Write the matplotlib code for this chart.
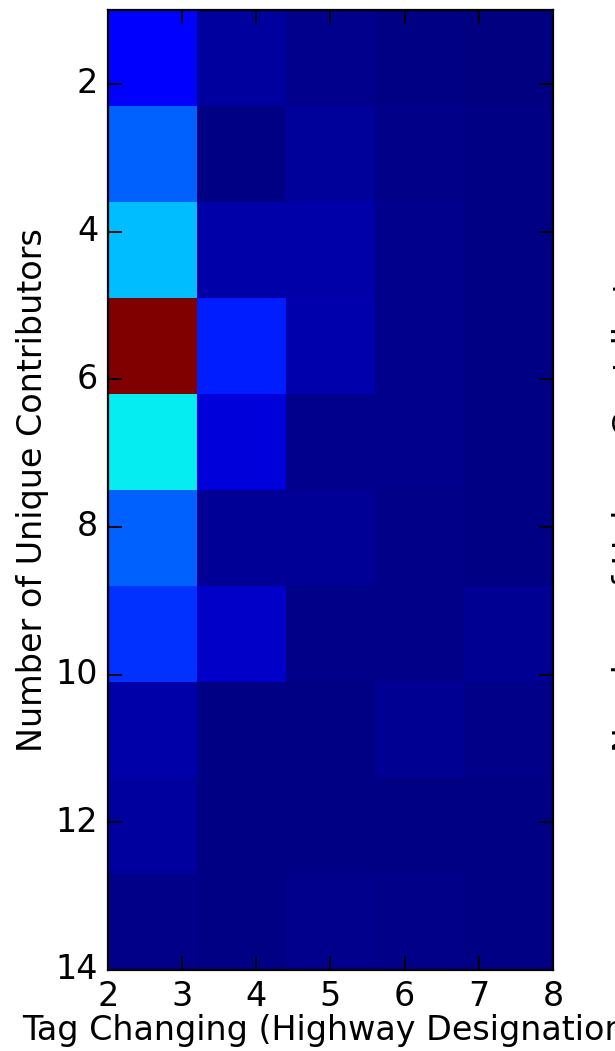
import matplotlib
matplotlib.use("Agg")
import matplotlib.pyplot as plt
import numpy as np

# bin edges of the 2d histogram
x_edges = [2.0, 3.2, 4.4, 5.6, 6.8, 8.0]
y_edges = [1.0, 2.3, 3.6, 4.9, 6.2, 7.5, 8.8, 10.1, 11.4, 12.7, 14.0]

# counts, one row per y bin (top to bottom), one column per x bin
counts = [
    [29, 7, 3, 1, 0],
    [55, 1, 6, 2, 1],
    [78, 9, 9, 3, 1],
    [250, 39, 10, 3, 1],
    [89, 20, 3, 3, 1],
    [55, 5, 5, 2, 1],
    [43, 16, 2, 2, 4],
    [9, 1, 1, 4, 2],
    [7, 1, 1, 1, 1],
    [2, 1, 3, 2, 1],
]

x_ticks = [2, 3, 4, 5, 6, 7, 8]
y_ticks = [2, 4, 6, 8, 10, 12, 14]

plt.style.use("classic")
fs = 24

fig = plt.figure(figsize=(6.15, 10.51), dpi=100, facecolor="white")
ax = fig.add_axes([0.1756, 0.0771, 0.899 - 0.1756, 0.9905 - 0.0771])

C = np.array(counts, dtype=float)
ax.pcolormesh(x_edges, y_edges, C, cmap="jet", vmin=0, vmax=C.max())
ax.set_xlim(2, 8)
ax.set_ylim(14, 1)
ax.set_xticks(x_ticks)
ax.set_yticks(y_ticks)
ax.tick_params(direction="in", length=10, width=1.3, labelsize=fs, pad=7)
for s in ax.spines.values():
    s.set_linewidth(1.6)

ax.set_xlabel("Tag Changing (Highway Designation)", fontsize=fs, labelpad=1)
ax.set_ylabel("Number of Unique Contributors", fontsize=fs, labelpad=5)

# ylabel of the neighbouring panel, mostly cut off at the right edge
fig.text(612 / 615, 1 - 490 / 1051, "Number of Unique Contributors", rotation=90,
         ha="left", va="center", fontsize=fs)

fig.savefig("out.png", dpi=100, facecolor="white")
